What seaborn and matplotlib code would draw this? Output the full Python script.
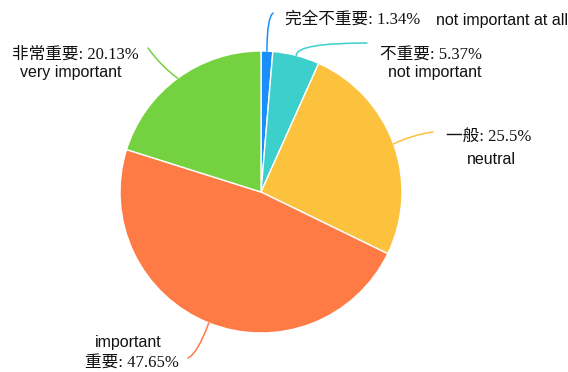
import matplotlib
matplotlib.use("Agg")
import matplotlib.pyplot as plt
import seaborn as sns
import numpy as np

# Survey answers, ordered clockwise from 12 o'clock
labels_cn = ["完全不重要", "不重要", "一般", "重要", "非常重要"]
labels_en = ["not important at all", "not important", "neutral", "important", "very important"]
shares = [1.34, 5.37, 25.5, 47.65, 20.13]
colors = ["#1a8ffb", "#3ccfcc", "#fcc23d", "#ff7b45", "#74d13f"]

sns.set_style("white")
plt.rcParams["font.family"] = ["Liberation Sans", "Noto Sans CJK SC"]

W, H = 568, 372
fig = plt.figure(figsize=(W / 100, H / 100), dpi=100)
ax = fig.add_axes([0, 0, 1, 1])

cx, cy, R = 261, H - 192, 141
palette = sns.color_palette(colors)
wedges, _ = ax.pie(shares, colors=palette, startangle=90, counterclock=False,
                   center=(cx, cy), radius=R,
                   wedgeprops=dict(edgecolor="white", linewidth=1.0))
ax.set_xlim(0, W)
ax.set_ylim(0, H)
ax.set_aspect("equal")
ax.axis("off")

serif = ["Liberation Serif", "Noto Sans CJK SC"]
sans = ["Liberation Sans", "DejaVu Sans"]

# label layout: (leader end, first line pos, second line pos, first line is Chinese, connection style)
layout = [
    ((273, 13), (285, 20), (436, 20), True, "angle3,angleA=40,angleB=90"),
    ((367, 43), (380, 55), (388, 73), True, "angle3,angleA=0,angleB=90"),
    ((433, 132), (446, 137), (467, 159), True, "arc3,rad=0.08"),
    ((188, 358), (95, 342), (85, 363), False, "angle3,angleA=25,angleB=70"),
    ((148, 48), (12, 55), (20, 73), True, "arc3,rad=0.08"),
]

for w, cn, en, val, col, (end, p1, p2, cn_first, cs) in zip(
        wedges, labels_cn, labels_en, shares, colors, layout):
    mid = np.deg2rad((w.theta1 + w.theta2) / 2)
    edge = (cx + R * np.cos(mid), cy + R * np.sin(mid))
    ax.annotate("", xy=edge, xytext=(end[0], H - end[1]),
                arrowprops=dict(arrowstyle="-", color=col, lw=1.1,
                                connectionstyle=cs, shrinkA=0, shrinkB=0))
    cn_text = f"{cn}: {val:g}%"
    if cn_first:
        ax.text(p1[0], H - p1[1], cn_text, family=serif, fontsize=12,
                ha="left", va="center", color="#111111")
        ax.text(p2[0], H - p2[1], en, family=sans, fontsize=11.5,
                ha="left", va="center", color="#111111")
    else:
        ax.text(p1[0], H - p1[1], en, family=sans, fontsize=11.5,
                ha="left", va="center", color="#111111")
        ax.text(p2[0], H - p2[1], cn_text, family=serif, fontsize=12,
                ha="left", va="center", color="#111111")

fig.savefig("out.png", dpi=100, facecolor="white")
